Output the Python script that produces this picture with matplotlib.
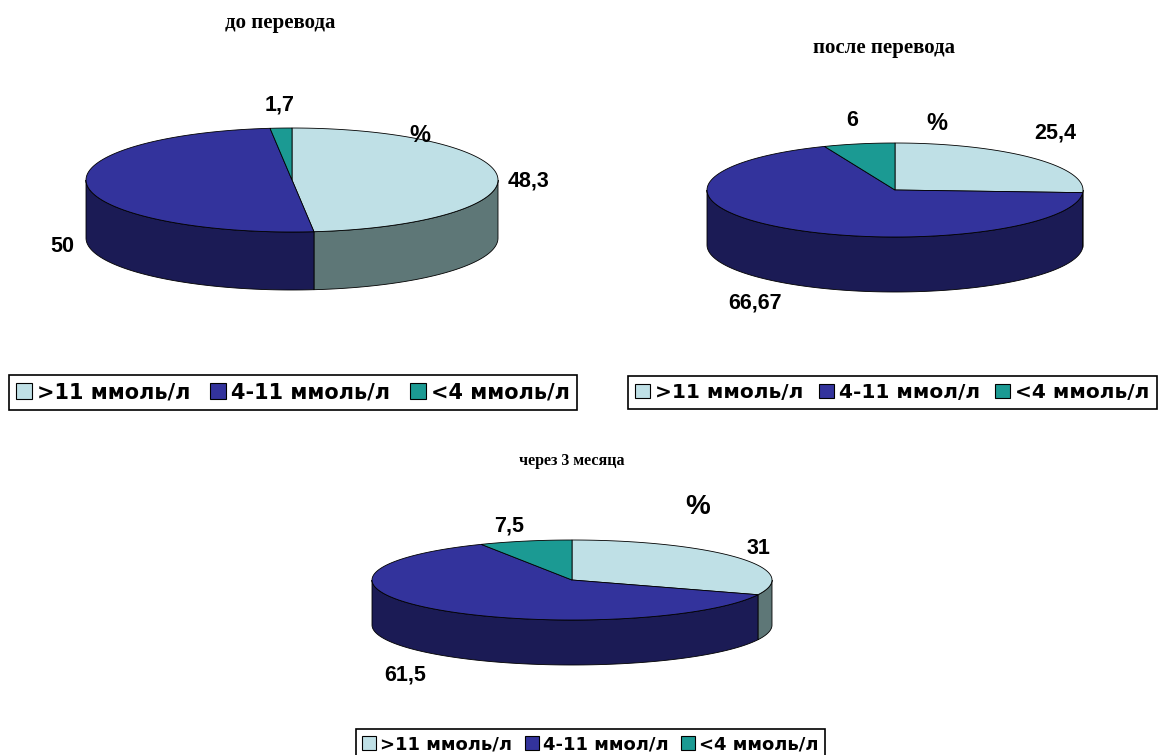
import numpy as np
import matplotlib
matplotlib.use("Agg")
import matplotlib.pyplot as plt
from matplotlib.patches import Polygon, Patch

# ---- data -------------------------------------------------------------
categories = [">11 ммоль/л", "4-11 ммоль/л", "<4 ммоль/л"]
legend_labels_alt = [">11 ммоль/л", "4-11 ммол/л", "<4 ммоль/л"]
before_values = [48.3, 50, 1.7]
after_values = [25.4, 66.67, 6]
three_month_values = [31, 61.5, 7.5]
titles = ["до перевода", "после перевода", "через 3 месяца"]

top_colors = ["#bfe0e6", "#33339c", "#1b9a93"]
side_colors = ["#5e7777", "#1b1b55", "#0f5552"]

W, H = 1162, 755
fig = plt.figure(figsize=(W / 100, H / 100), dpi=100)
ax = fig.add_axes([0, 0, 1, 1])
ax.set_xlim(0, W)
ax.set_ylim(H, 0)
ax.axis("off")

label_font = dict(family="Liberation Sans", weight="bold", size=15.5, color="black")


def arc(cx, cy, a, b, t0, t1, dy=0.0, n=120):
    t = np.radians(np.linspace(t0, t1, n))
    return np.column_stack([cx + a * np.sin(t), cy - b * np.cos(t) + dy])


def pie3d(values, cx, cy, a, b, depth):
    vals = np.asarray(values, dtype=float)
    ang = np.concatenate([[0], np.cumsum(vals) / vals.sum() * 360.0])
    # side walls (only the front half of the rim is visible)
    for i in range(len(vals)):
        lo, hi = max(ang[i], 90.0), min(ang[i + 1], 270.0)
        if hi > lo:
            top = arc(cx, cy, a, b, lo, hi)
            bot = arc(cx, cy, a, b, lo, hi, dy=depth)[::-1]
            ax.add_patch(Polygon(np.vstack([top, bot]), closed=True,
                                 facecolor=side_colors[i], edgecolor="black",
                                 linewidth=0.6, zorder=2))
    # top faces
    for i in range(len(vals)):
        pts = np.vstack([[cx, cy], arc(cx, cy, a, b, ang[i], ang[i + 1])])
        ax.add_patch(Polygon(pts, closed=True, facecolor=top_colors[i],
                             edgecolor="black", linewidth=0.6, zorder=3))


def fmt(v):
    return f"{v:g}".replace(".", ",")


def legend(labels, left, top, size, colsp):
    handles = [Patch(facecolor=c, edgecolor="black", linewidth=0.8) for c in top_colors]
    leg = fig.legend(handles, labels, loc="upper left",
                     bbox_to_anchor=(left / W, 1 - top / H), ncol=3,
                     frameon=True, fancybox=False, borderpad=0.35,
                     handlelength=0.75, handleheight=0.75, handletextpad=0.25,
                     columnspacing=colsp, borderaxespad=0,
                     prop=dict(family="DejaVu Sans", weight="bold", size=size))
    fr = leg.get_frame()
    fr.set_edgecolor("black")
    fr.set_linewidth(1.2)
    fr.set_alpha(1)


panels = [
    dict(values=before_values, geom=(292, 180, 206, 52, 58),
         title_xy=(280, 23), title_size=15,
         labels_xy=[(528, 181), (62, 246), (280, 105)],
         pct_xy=(420, 135), pct_size=17,
         legend=(categories, 9, 375, 15, 0.95)),
    dict(values=after_values, geom=(895, 190, 188, 47, 55),
         title_xy=(884, 48), title_size=15,
         labels_xy=[(1055, 133), (755, 303), (852, 120)],
         pct_xy=(937, 124), pct_size=17,
         legend=(legend_labels_alt, 628, 376, 14.5, 0.75)),
    dict(values=three_month_values, geom=(572, 580, 200, 40, 45),
         title_xy=(572, 461), title_size=11.5,
         labels_xy=[(758, 549), (405, 675), (509, 526)],
         pct_xy=(698, 507), pct_size=20,
         legend=(legend_labels_alt, 356, 729, 13, 0.7)),
]

for p, title in zip(panels, titles):
    pie3d(p["values"], *p["geom"])
    ax.text(*p["title_xy"], title, ha="center", va="center",
            family="Liberation Serif", weight="bold", size=p["title_size"])
    for v, (x, y) in zip(p["values"], p["labels_xy"]):
        ax.text(x, y, fmt(v), ha="center", va="center", zorder=5, **label_font)
    ax.text(*p["pct_xy"], "%", ha="center", va="center", zorder=5,
            family="Liberation Sans", weight="bold", size=p["pct_size"])
    legend(*p["legend"])

fig.savefig("out.png", dpi=100, facecolor="white")
